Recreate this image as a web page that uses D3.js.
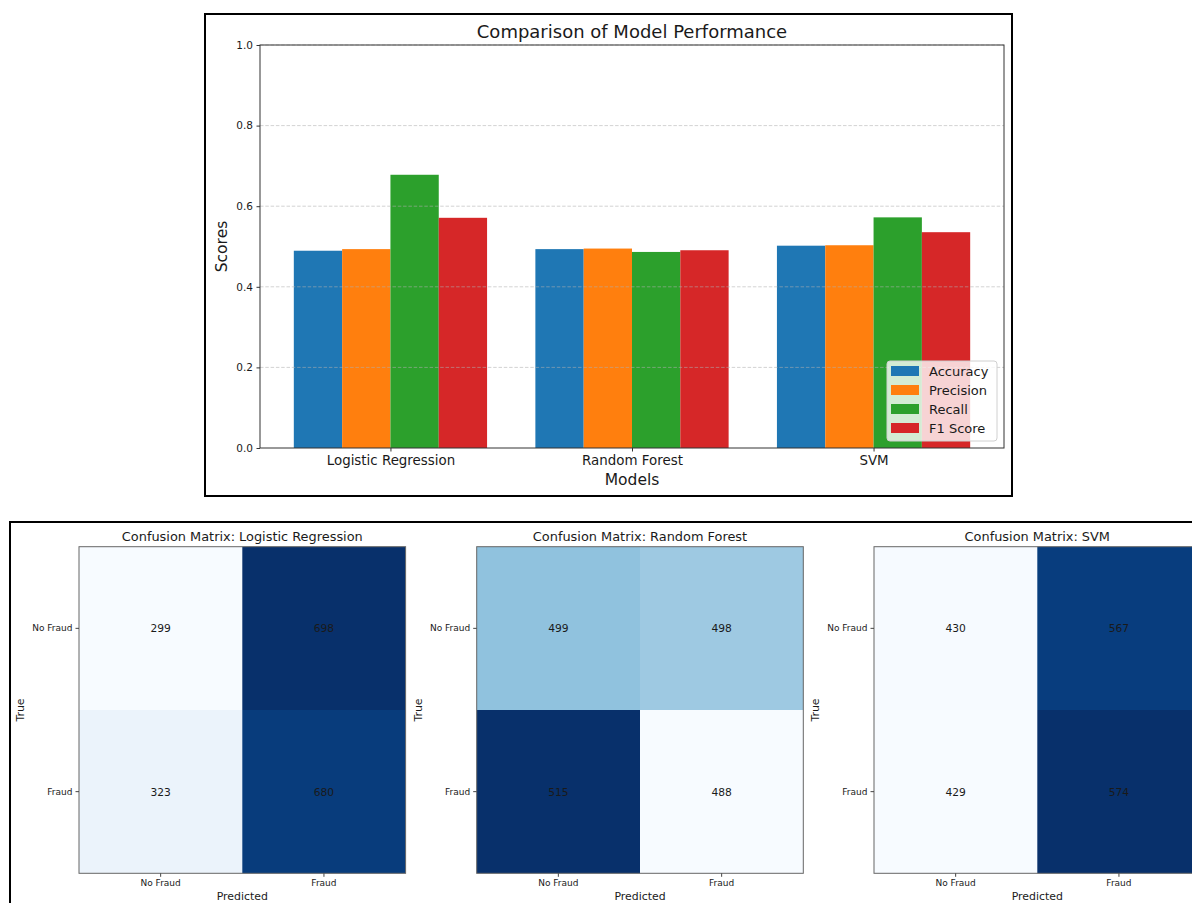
<!DOCTYPE html>
<html>
<head>
<meta charset="utf-8">
<script src="https://cdn.jsdelivr.net/npm/d3@7"></script>
<style>
  html, body { margin: 0; padding: 0; background: #fff; }
  svg { display: block; font-family: "DejaVu Sans", sans-serif; }
</style>
</head>
<body>
<svg id="chart" width="1192" height="903"></svg>
<script>
// Model names and scoring metrics
const models = ["Logistic Regression", "Random Forest", "SVM"];
const metrics = ["Accuracy", "Precision", "Recall", "F1 Score"];
const metricColors = ["#1f77b4", "#ff7f0e", "#2ca02c", "#d62728"];

// Scores per model
const accuracy  = [0.4895, 0.4935, 0.5020];
const precision = [0.4935, 0.4949, 0.5031];
const recall    = [0.6780, 0.4865, 0.5723];
const f1Score   = [0.5712, 0.4907, 0.5355];

const yTicks = [0.0, 0.2, 0.4, 0.6, 0.8, 1.0];

// Confusion matrices (rows: true class, cols: predicted class)
const classLabels = ["No Fraud", "Fraud"];
const cmLogistic = [[299, 698], [323, 680]];
const cmForest   = [[499, 498], [515, 488]];
const cmSVM      = [[430, 567], [429, 574]];

const svg = d3.select("#chart");
const textColor = "#1a1a1a";

// ---------- Bar chart ----------
const seriesByMetric = [accuracy, precision, recall, f1Score];
const barWidth = 0.2;

const barFig = svg.append("g");
barFig.append("rect")
  .attr("x", 205).attr("y", 14).attr("width", 807).attr("height", 482)
  .attr("fill", "#fff").attr("stroke", "#000").attr("stroke-width", 2);

const x = d3.scaleLinear().domain([-0.54, 2.54]).range([260, 1004]);
const y = d3.scaleLinear().domain([0, 1]).range([448, 45]);

const barData = [];
models.forEach((m, i) => {
  metrics.forEach((k, j) => {
    barData.push({ i, j, value: seriesByMetric[j][i] });
  });
});

barFig.selectAll("rect.bar")
  .data(barData)
  .join("rect")
  .attr("class", "bar")
  .attr("x", d => x(d.i + (d.j - 2) * barWidth))
  .attr("width", d => x(barWidth) - x(0))
  .attr("y", d => y(d.value))
  .attr("height", d => y(0) - y(d.value))
  .attr("fill", d => metricColors[d.j]);

// dashed horizontal grid
barFig.selectAll("line.grid")
  .data(yTicks.filter(t => t > 0))
  .join("line")
  .attr("class", "grid")
  .attr("x1", x(-0.54)).attr("x2", x(2.54))
  .attr("y1", d => y(d)).attr("y2", d => y(d))
  .attr("stroke", "#b0b0b0")
  .attr("stroke-opacity", 0.7)
  .attr("stroke-dasharray", "3.5,1.8")
  .attr("stroke-width", 0.8);

// frame
barFig.append("rect")
  .attr("x", x(-0.54)).attr("y", y(1))
  .attr("width", x(2.54) - x(-0.54)).attr("height", y(0) - y(1))
  .attr("fill", "none").attr("stroke", "#333").attr("stroke-width", 1);

const yAxis = barFig.append("g")
  .attr("transform", `translate(${x(-0.54)},0)`)
  .call(d3.axisLeft(y).tickValues(yTicks).tickFormat(d3.format(".1f")).tickSize(3.5).tickPadding(3.5));
yAxis.select(".domain").remove();
yAxis.selectAll("text").attr("font-size", 10.5).attr("fill", textColor).attr("font-family", "DejaVu Sans");
yAxis.selectAll("line").attr("stroke", "#333");

const xAxis = barFig.append("g")
  .attr("transform", `translate(0,${y(0)})`)
  .call(d3.axisBottom(x).tickValues([0, 1, 2]).tickFormat(d => models[d]).tickSize(3.5).tickPadding(3.5));
xAxis.select(".domain").remove();
xAxis.selectAll("text").attr("font-size", 13.4).attr("fill", textColor).attr("font-family", "DejaVu Sans");
xAxis.selectAll("line").attr("stroke", "#333");

barFig.append("text")
  .attr("x", (x(-0.54) + x(2.54)) / 2).attr("y", 38)
  .attr("text-anchor", "middle").attr("font-size", 18).attr("fill", textColor)
  .text("Comparison of Model Performance");

barFig.append("text")
  .attr("x", (x(-0.54) + x(2.54)) / 2).attr("y", 485)
  .attr("text-anchor", "middle").attr("font-size", 15.5).attr("fill", textColor)
  .text("Models");

barFig.append("text")
  .attr("transform", `translate(227,${(y(0) + y(1)) / 2}) rotate(-90)`)
  .attr("text-anchor", "middle").attr("font-size", 15.5).attr("fill", textColor)
  .text("Scores");

// legend
const legend = barFig.append("g").attr("transform", "translate(887,361)");
legend.append("rect")
  .attr("width", 110).attr("height", 80).attr("rx", 3)
  .attr("fill", "#fff").attr("fill-opacity", 0.8)
  .attr("stroke", "#d0d0d0").attr("stroke-width", 1);
const legItems = legend.selectAll("g.item")
  .data(metrics)
  .join("g")
  .attr("class", "item")
  .attr("transform", (d, i) => `translate(0,${10 + i * 19})`);
legItems.append("rect")
  .attr("x", 4).attr("y", -5).attr("width", 28).attr("height", 10)
  .attr("fill", (d, i) => metricColors[i]);
legItems.append("text")
  .attr("x", 42).attr("y", 4.6)
  .attr("font-size", 13).attr("fill", textColor)
  .text(d => d);

// ---------- Confusion matrices ----------
const cmFig = svg.append("g");
cmFig.append("rect")
  .attr("x", 10).attr("y", 522).attr("width", 1200).attr("height", 400)
  .attr("fill", "#fff").attr("stroke", "#000").attr("stroke-width", 2);

const panels = [
  { title: "Confusion Matrix: Logistic Regression", cm: cmLogistic, left: 79 },
  { title: "Confusion Matrix: Random Forest", cm: cmForest, left: 476.7 },
  { title: "Confusion Matrix: SVM", cm: cmSVM, left: 874 }
];
const cmTop = 546.7, cmSize = 326.6;

panels.forEach(p => {
  const g = cmFig.append("g");
  const bx = d3.scaleBand().domain([0, 1]).range([p.left, p.left + cmSize]);
  const by = d3.scaleBand().domain([0, 1]).range([cmTop, cmTop + cmSize]);
  const flat = p.cm.flat();
  const color = d3.scaleSequential(d3.interpolateBlues).domain([d3.min(flat), d3.max(flat)]);

  const cells = [];
  p.cm.forEach((row, r) => row.forEach((v, c) => cells.push({ r, c, v })));

  g.selectAll("rect.cell")
    .data(cells)
    .join("rect")
    .attr("class", "cell")
    .attr("x", d => bx(d.c)).attr("y", d => by(d.r))
    .attr("width", bx.bandwidth()).attr("height", by.bandwidth())
    .attr("fill", d => color(d.v));

  g.selectAll("text.val")
    .data(cells)
    .join("text")
    .attr("class", "val")
    .attr("x", d => bx(d.c) + bx.bandwidth() / 2)
    .attr("y", d => by(d.r) + by.bandwidth() / 2 + 4)
    .attr("text-anchor", "middle").attr("font-size", 10.7).attr("fill", textColor)
    .text(d => d.v);

  g.append("rect")
    .attr("x", p.left).attr("y", cmTop).attr("width", cmSize).attr("height", cmSize)
    .attr("fill", "none").attr("stroke", "#666").attr("stroke-width", 1);

  const xa = g.append("g")
    .attr("transform", `translate(0,${cmTop + cmSize})`)
    .call(d3.axisBottom(bx).tickFormat(d => classLabels[d]).tickSize(3.5).tickPadding(3));
  xa.select(".domain").remove();
  xa.selectAll("text").attr("font-size", 9).attr("fill", textColor).attr("font-family", "DejaVu Sans");
  xa.selectAll("line").attr("stroke", "#444");

  const ya = g.append("g")
    .attr("transform", `translate(${p.left},0)`)
    .call(d3.axisLeft(by).tickFormat(d => classLabels[d]).tickSize(3.5).tickPadding(3));
  ya.select(".domain").remove();
  ya.selectAll("text").attr("font-size", 9).attr("fill", textColor).attr("font-family", "DejaVu Sans");
  ya.selectAll("line").attr("stroke", "#444");

  g.append("text")
    .attr("x", p.left + cmSize / 2).attr("y", 541)
    .attr("text-anchor", "middle").attr("font-size", 12.9).attr("fill", textColor)
    .text(p.title);

  g.append("text")
    .attr("x", p.left + cmSize / 2).attr("y", 900)
    .attr("text-anchor", "middle").attr("font-size", 10.9).attr("fill", textColor)
    .text("Predicted");

  g.append("text")
    .attr("transform", `translate(${p.left - 55},${cmTop + cmSize / 2}) rotate(-90)`)
    .attr("text-anchor", "middle").attr("font-size", 10.9).attr("fill", textColor)
    .text("True");
});
</script>
</body>
</html>
